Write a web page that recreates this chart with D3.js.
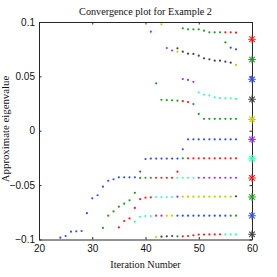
<!DOCTYPE html>
<html><head><meta charset="utf-8">
<script src="https://cdn.jsdelivr.net/npm/d3@7"></script>
<style>html,body{margin:0;padding:0;background:#fff;overflow:hidden}</style>
</head><body><svg id="c" width="277" height="277"></svg>
<script>
// ---- data (iteration, approximate eigenvalue) ----
const xTicks = [20, 30, 40, 50, 60];
const yTicks = [-0.1, -0.05, 0, 0.05, 0.1];
const yTickLabels = ["\u22120.1", "\u22120.05", "0", "0.05", "0.1"];

const redPts = [[55,0.0905],[56,0.0905],[57,0.0902],[47,0.0272],[48,0.0264],
  [48,-0.0254],[49,-0.0254],[50,-0.0254],[51,-0.0254],[52,-0.0254],[53,-0.0254],[54,-0.0254],[55,-0.0254],[56,-0.0254],[57,-0.0254],
  [46,-0.0376],[42,-0.0432],[43,-0.0432],[44,-0.0432],[45,-0.0432],
  [35,-0.0889],[36,-0.083],[37,-0.0806],[38,-0.071],[39,-0.0629],[40,-0.0615],[41,-0.0612],
  [47,-0.0971],[48,-0.0968],[49,-0.0962],[50,-0.0955],[51,-0.0955],[52,-0.0953],[53,-0.0953],[54,-0.0952]];
const greenPts = [[47,0.0942],[48,0.0933],[49,0.0933],[50,0.0933],[51,0.092],[52,0.0905],[53,0.0905],[54,0.0905],
  [55,0.0812],[42,0.0436],[43,0.0285],[44,0.0282],[45,0.028],[46,0.0277],[49,0.0245],
  [50,0.0155],[51,0.011],[52,0.011],[53,0.011],[54,0.011],[55,0.011],[56,0.011],[57,0.011],
  [47,-0.0254],[39,-0.0434],[40,-0.0432],[41,-0.0432],
  [32,-0.0894],[33,-0.0781],[34,-0.0742],[35,-0.0698],[36,-0.0671],[37,-0.064],[38,-0.0571],
  [56,-0.0781],[57,-0.0781],[46,-0.0971]];
const bluePts = [[56,0.0764],[57,0.0749],
  [48,-0.0079],[49,-0.0079],[50,-0.0079],[51,-0.0079],[52,-0.0079],[53,-0.0079],[54,-0.0079],[55,-0.0079],[56,-0.0079],[57,-0.0079],
  [47,-0.017],[40,-0.026],[41,-0.0256],[42,-0.0256],[43,-0.0256],[44,-0.0256],[45,-0.0256],[46,-0.0256],
  [39,-0.0375],
  [24,-0.0983],[25,-0.0968],[26,-0.0928],[27,-0.0925],[28,-0.0922],[29,-0.0758],[30,-0.0621],[31,-0.0593],
  [32,-0.0514],[33,-0.046],[34,-0.0446],[35,-0.0428],[36,-0.0428],[37,-0.0428],[38,-0.0428],
  [46,-0.0781],[47,-0.0781],[48,-0.0781],[49,-0.0781],[50,-0.0781],[51,-0.0781],[52,-0.0781],[53,-0.0781],[54,-0.0781],[55,-0.0781]];
const grayPts = [[46,0.0758],[47,0.0727],[48,0.0709],[49,0.0706],[50,0.069],[51,0.0666],[52,0.0657],[53,0.0644],[54,0.0644],[55,0.0635],[56,0.0626],
  [57,-0.0603],[43,-0.0974],[44,-0.0971],[45,-0.0968]];
const yellowPts = [[43,0.0979],[46,0.0727],[57,0.0605],
  [47,-0.0606],[48,-0.0606],[49,-0.0606],[50,-0.0606],[51,-0.0606],[52,-0.0606],[53,-0.0606],[54,-0.0606],[55,-0.0606],[56,-0.0606],
  [44,-0.0781],[45,-0.0781],[42,-0.0977]];
const purplePts = [[41,0.0911],[44,0.0761],[45,0.0738],[47,0.0476],[48,0.0467],[49,0.045],
  [50,-0.0432],[51,-0.0432],[52,-0.0432],[53,-0.0432],[54,-0.0432],[55,-0.0432],[56,-0.0432],[57,-0.0432],
  [46,-0.0606],[42,-0.0781],[43,-0.0781]];
const cyanPts = [[50,0.0352],[51,0.0332],[52,0.0325],[53,0.0307],[54,0.03],[55,0.03],[56,0.0298],[57,0.0293],
  [46,-0.0432],[47,-0.0432],[48,-0.0432],[49,-0.0432],
  [42,-0.0609],[43,-0.0609],[44,-0.0609],[45,-0.0609],
  [38,-0.0836],[39,-0.0791],[40,-0.0785],[41,-0.0785],
  [55,-0.0953],[56,-0.0953],[57,-0.0953]];

const exactIter = 60;
const exactVals = [0.0842, 0.0655, 0.0473, 0.0289, 0.0105, -0.0079, -0.0257, -0.0434, -0.0609, -0.0781, -0.0952];
const exactColorKeys = ["red","green","blue","gray","yellow","purple","cyan","red","green","blue","gray"];

const palette = {red:"#ff1a1a", green:"#1f9f1f", blue:"#2e4dff", gray:"#444444", yellow:"#c2d200", purple:"#a02ef0", cyan:"#3cffb4"};
const series = [["red",redPts],["green",greenPts],["blue",bluePts],["gray",grayPts],["yellow",yellowPts],["purple",purplePts],["cyan",cyanPts]];

// ---- drawing ----
const svg = d3.select("#c");
const L = 39, R = 252, T = 22, B = 239.5;
const x = d3.scaleLinear().domain([20, 60]).range([L, R]);
const y = d3.scaleLinear().domain([-0.1, 0.1]).range([B, T]);

svg.append("rect").attr("width",277).attr("height",277).attr("fill","#fff");

const sansFont = "'Liberation Sans', Arial, sans-serif";
const serifFont = "'Liberation Serif', 'Times New Roman', serif";
const axisColor = "#262626";

function styleAxis(g, showLabels){
  g.select(".domain").attr("stroke", axisColor).attr("stroke-width", 1);
  g.selectAll(".tick line").attr("stroke", axisColor).attr("stroke-width", 1);
  g.selectAll(".tick text").attr("fill", "#111").attr("font-family", sansFont).attr("font-size", 10);
  if (!showLabels) g.selectAll(".tick text").remove();
}

svg.append("g").attr("transform", `translate(0,${B})`)
  .call(d3.axisBottom(x).tickValues(xTicks).tickSizeInner(-2.5).tickSizeOuter(0).tickPadding(5).tickFormat(d3.format("d")))
  .call(g => styleAxis(g, true));
svg.append("g").attr("transform", `translate(0,${T})`)
  .call(d3.axisTop(x).tickValues(xTicks).tickSizeInner(-2.5).tickSizeOuter(0))
  .call(g => styleAxis(g, false));
svg.append("g").attr("transform", `translate(${L},0)`)
  .call(d3.axisLeft(y).tickValues(yTicks).tickSizeInner(-2.5).tickSizeOuter(0).tickPadding(4)
    .tickFormat((d,i) => yTickLabels[i]))
  .call(g => styleAxis(g, true));
svg.append("g").attr("transform", `translate(${R},0)`)
  .call(d3.axisRight(y).tickValues(yTicks).tickSizeInner(-2.5).tickSizeOuter(0))
  .call(g => styleAxis(g, false));

// points
series.forEach(([key, pts]) => {
  svg.append("g").selectAll("circle").data(pts).join("circle")
    .attr("cx", d => x(d[0])).attr("cy", d => y(d[1]))
    .attr("r", 1.1).attr("fill", palette[key]);
});

// exact eigenvalues as asterisks
const star = svg.append("g");
exactVals.forEach((v, i) => {
  const cx = x(exactIter), cy = y(v), r = 3.4, c = palette[exactColorKeys[i]];
  const g = star.append("g").attr("stroke", c).attr("stroke-width", 1.1).attr("stroke-linecap","round");
  g.append("line").attr("x1", cx - r).attr("x2", cx + r).attr("y1", cy).attr("y2", cy);
  g.append("line").attr("x1", cx).attr("x2", cx).attr("y1", cy - r).attr("y2", cy + r);
  const q = r * 0.72;
  g.append("line").attr("x1", cx - q).attr("x2", cx + q).attr("y1", cy - q).attr("y2", cy + q);
  g.append("line").attr("x1", cx - q).attr("x2", cx + q).attr("y1", cy + q).attr("y2", cy - q);
});

// titles
svg.append("text").attr("x", (L + R) / 2).attr("y", 15).attr("text-anchor", "middle")
  .attr("font-family", serifFont).attr("font-size", 10.2).attr("fill", "#111")
  .text("Convergence plot for Example 2");
svg.append("text").attr("x", (L + R) / 2).attr("y", 268).attr("text-anchor", "middle")
  .attr("font-family", serifFont).attr("font-size", 10.2).attr("fill", "#111")
  .text("Iteration Number");
svg.append("text").attr("transform", `translate(9,129) rotate(-90)`).attr("text-anchor", "middle")
  .attr("font-family", serifFont).attr("font-size", 10.8).attr("fill", "#111")
  .text("Approximate eigenvalue");
</script></body></html>
